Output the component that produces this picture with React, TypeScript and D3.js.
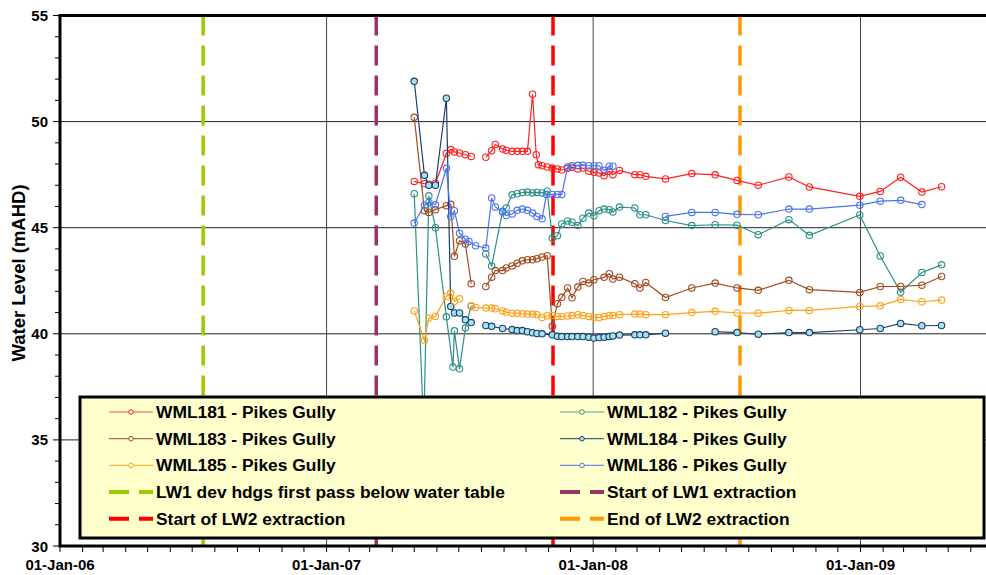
import React from "react";
import * as d3 from "d3";

type Pt = [string, number | null];

const WML181: Pt[] = [
  ["2007-05-01", 47.18], ["2007-05-15", 47.07], ["2007-05-21", 47.05], ["2007-05-30", 47.1],
  ["2007-06-14", 48.5], ["2007-06-20", 48.68], ["2007-06-25", 48.57], ["2007-07-02", 48.52],
  ["2007-07-10", 48.44], ["2007-07-18", 48.36], ["2007-07-28", null],
  ["2007-08-07", 48.32], ["2007-08-15", 48.63], ["2007-08-20", 48.92], ["2007-08-30", 48.71],
  ["2007-09-04", 48.65], ["2007-09-12", 48.6], ["2007-09-19", 48.6], ["2007-09-26", 48.6],
  ["2007-10-03", 48.6], ["2007-10-10", 51.29], ["2007-10-15", 48.44], ["2007-10-18", 47.97],
  ["2007-10-23", 47.92], ["2007-10-30", 47.86], ["2007-11-06", 47.81], ["2007-11-13", 47.77],
  ["2007-11-19", 47.72], ["2007-11-27", 47.8], ["2007-12-03", 47.85], ["2007-12-11", 47.77],
  ["2007-12-18", 47.81], ["2007-12-26", 47.66], ["2008-01-02", 47.61], ["2008-01-09", 47.58],
  ["2008-01-16", 47.45], ["2008-01-23", 47.66], ["2008-01-28", 47.5], ["2008-02-06", 47.7],
  ["2008-02-27", 47.5], ["2008-03-05", 47.5], ["2008-03-13", 47.42], ["2008-04-09", 47.3],
  ["2008-05-15", 47.55], ["2008-06-16", 47.49], ["2008-07-16", 47.23], ["2008-08-14", 47.0],
  ["2008-09-25", 47.39], ["2008-10-23", 46.92], ["2008-12-31", 46.48], ["2009-01-28", 46.71],
  ["2009-02-25", 47.38], ["2009-03-26", 46.68], ["2009-04-22", 46.93],
];

const WML182: Pt[] = [
  ["2007-05-01", 46.6], ["2007-05-14", 35.5], ["2007-05-21", 46.5], ["2007-05-30", 45.0],
  ["2007-06-14", 40.8], ["2007-06-23", 38.43], ["2007-06-25", 40.14], ["2007-07-02", 38.35],
  ["2007-07-10", 40.27], ["2007-07-18", 41.3], ["2007-07-28", null],
  ["2007-08-07", 43.76], ["2007-08-15", 43.2], ["2007-08-30", 45.77], ["2007-09-04", 45.93],
  ["2007-09-12", 46.55], ["2007-09-19", 46.6], ["2007-09-26", 46.66], ["2007-10-03", 46.68],
  ["2007-10-10", 46.64], ["2007-10-16", 46.66], ["2007-10-23", 46.64], ["2007-10-30", 46.72],
  ["2007-11-06", 44.5], ["2007-11-13", 44.62], ["2007-11-19", 45.18], ["2007-11-27", 45.32],
  ["2007-12-03", 45.26], ["2007-12-11", 45.1], ["2007-12-18", 45.45], ["2007-12-26", 45.69],
  ["2008-01-02", 45.56], ["2008-01-09", 45.8], ["2008-01-16", 45.88], ["2008-01-23", 45.85],
  ["2008-01-28", 45.74], ["2008-02-06", 45.97], ["2008-02-27", 45.93], ["2008-03-05", 45.61],
  ["2008-03-13", 45.61], ["2008-04-09", 45.34], ["2008-05-15", 45.1], ["2008-06-16", 45.14],
  ["2008-07-16", 45.12], ["2008-08-14", 44.67], ["2008-09-25", 45.38], ["2008-10-23", 44.64],
  ["2008-12-31", 45.6], ["2009-01-28", 43.67], ["2009-02-25", 41.96], ["2009-03-26", 42.89],
  ["2009-04-22", 43.25],
];

const WML183: Pt[] = [
  ["2007-05-01", 50.2], ["2007-05-15", 45.8], ["2007-05-21", 45.72], ["2007-05-30", 45.85],
  ["2007-06-14", 46.04], ["2007-06-20", 46.1], ["2007-06-25", 43.65], ["2007-07-02", 44.39],
  ["2007-07-10", 44.23], ["2007-07-18", 42.36], ["2007-07-28", null],
  ["2007-08-07", 42.23], ["2007-08-15", 42.67], ["2007-08-20", 42.98], ["2007-08-30", 42.98],
  ["2007-09-04", 43.1], ["2007-09-12", 43.2], ["2007-09-19", 43.33], ["2007-09-26", 43.44],
  ["2007-10-03", 43.49], ["2007-10-10", 43.49], ["2007-10-16", 43.54], ["2007-10-23", 43.62],
  ["2007-10-30", 43.68], ["2007-11-06", 40.35], ["2007-11-13", 41.42], ["2007-11-19", 41.72],
  ["2007-11-27", 42.16], ["2007-12-03", 41.7], ["2007-12-11", 42.2], ["2007-12-18", 42.47],
  ["2007-12-26", 42.39], ["2008-01-02", 42.55], ["2008-01-16", 42.66], ["2008-01-23", 42.83],
  ["2008-01-28", 42.58], ["2008-02-06", 42.67], ["2008-02-27", 42.36], ["2008-03-05", 42.16],
  ["2008-03-13", 42.42], ["2008-04-09", 41.71], ["2008-05-15", 42.16], ["2008-06-16", 42.39],
  ["2008-07-16", 42.16], ["2008-08-14", 42.05], ["2008-09-25", 42.52], ["2008-10-23", 42.08],
  ["2008-12-31", 41.95], ["2009-01-28", 42.23], ["2009-02-25", 42.23], ["2009-03-26", 42.29],
  ["2009-04-22", 42.7],
];

const WML184: Pt[] = [
  ["2007-05-01", 51.9], ["2007-05-15", 47.47], ["2007-05-21", 47.0], ["2007-05-30", 47.0],
  ["2007-06-14", 51.1], ["2007-06-20", 41.29], ["2007-06-25", 40.98], ["2007-07-02", 40.98],
  ["2007-07-10", 40.66], ["2007-07-18", 40.53], ["2007-07-28", null],
  ["2007-08-07", 40.39], ["2007-08-15", 40.35], ["2007-08-30", 40.25], ["2007-09-12", 40.2],
  ["2007-09-19", 40.15], ["2007-09-26", 40.15], ["2007-10-03", 40.1], ["2007-10-10", 40.05],
  ["2007-10-16", 40.02], ["2007-10-23", 40.0], ["2007-11-06", 39.95], ["2007-11-13", 39.88],
  ["2007-11-19", 39.87], ["2007-11-27", 39.87], ["2007-12-03", 39.87], ["2007-12-11", 39.87],
  ["2007-12-18", 39.87], ["2007-12-26", 39.84], ["2008-01-02", 39.8], ["2008-01-09", 39.82],
  ["2008-01-16", 39.84], ["2008-01-23", 39.87], ["2008-01-28", 39.9], ["2008-02-06", 39.94],
  ["2008-02-27", 39.95], ["2008-03-05", 39.95], ["2008-03-13", 39.95], ["2008-04-09", 40.03],
  ["2008-05-10", null],
  ["2008-06-16", 40.1], ["2008-07-16", 40.06], ["2008-08-14", 39.98], ["2008-09-25", 40.06],
  ["2008-10-23", 40.06], ["2008-12-31", 40.19], ["2009-01-28", 40.25], ["2009-02-25", 40.49],
  ["2009-03-26", 40.38], ["2009-04-22", 40.39],
];

const WML185: Pt[] = [
  ["2007-05-01", 41.08], ["2007-05-15", 39.68], ["2007-05-21", 40.74], ["2007-05-30", 40.82],
  ["2007-06-14", 41.76], ["2007-06-20", 41.92], ["2007-06-25", 41.53], ["2007-07-02", 41.65],
  ["2007-07-10", null],
  ["2007-07-18", 41.32], ["2007-07-24", 41.24], ["2007-08-07", 41.21], ["2007-08-15", 41.21],
  ["2007-08-20", 41.18], ["2007-08-30", 41.08], ["2007-09-04", 41.02], ["2007-09-12", 40.97],
  ["2007-09-19", 40.97], ["2007-09-26", 40.94], ["2007-10-03", 40.93], ["2007-10-10", 40.93],
  ["2007-10-16", 40.9], ["2007-10-23", 40.77], ["2007-10-30", 40.85], ["2007-11-06", 40.86],
  ["2007-11-13", 40.82], ["2007-11-19", 40.82], ["2007-11-27", 40.84], ["2007-12-03", 40.86],
  ["2007-12-11", 40.9], ["2007-12-18", 40.86], ["2007-12-26", 40.82], ["2008-01-02", 40.77],
  ["2008-01-09", 40.77], ["2008-01-16", 40.82], ["2008-01-23", 40.86], ["2008-01-28", 40.86],
  ["2008-02-06", 40.9], ["2008-02-27", 40.93], ["2008-03-05", 40.93], ["2008-03-13", 40.9],
  ["2008-04-09", 40.9], ["2008-05-15", 41.0], ["2008-06-16", 41.06], ["2008-07-16", 40.98],
  ["2008-08-14", 40.97], ["2008-09-25", 41.1], ["2008-10-23", 41.1], ["2008-12-31", 41.29],
  ["2009-01-28", 41.32], ["2009-02-25", 41.62], ["2009-03-26", 41.51], ["2009-04-22", 41.59],
];

const WML186: Pt[] = [
  ["2007-05-01", 45.22], ["2007-05-15", 46.06], ["2007-05-21", 46.2], ["2007-05-30", 46.08],
  ["2007-06-14", 47.8], ["2007-06-20", 45.53], ["2007-06-25", 45.8], ["2007-07-02", 44.74],
  ["2007-07-10", 44.46], ["2007-07-15", 44.35], ["2007-07-24", 44.15], ["2007-08-07", 44.04],
  ["2007-08-15", 46.4], ["2007-08-20", 45.98], ["2007-08-30", 45.74], ["2007-09-04", 45.57],
  ["2007-09-12", 45.65], ["2007-09-19", 45.82], ["2007-09-26", 45.88], ["2007-10-03", 45.82],
  ["2007-10-10", 45.69], ["2007-10-16", 45.53], ["2007-10-23", 45.42], ["2007-10-29", 46.56],
  ["2007-11-06", 46.57], ["2007-11-13", 46.57], ["2007-11-19", 46.57], ["2007-11-27", 47.86],
  ["2007-12-03", 47.92], ["2007-12-11", 47.94], ["2007-12-18", 47.94], ["2007-12-26", 47.92],
  ["2008-01-02", 47.92], ["2008-01-09", 47.92], ["2008-01-16", 47.7], ["2008-01-23", 47.9],
  ["2008-01-28", 47.9], ["2008-03-01", null],
  ["2008-04-09", 45.53], ["2008-05-15", 45.72], ["2008-06-16", 45.72], ["2008-07-16", 45.63],
  ["2008-08-14", 45.61], ["2008-09-25", 45.88], ["2008-10-23", 45.88], ["2008-12-31", 46.06],
  ["2009-01-28", 46.25], ["2009-02-25", 46.29], ["2009-03-26", 46.09],
];

const SERIES_NAMES = [
  "WML181 - Pikes Gully", "WML182 - Pikes Gully", "WML183 - Pikes Gully",
  "WML184 - Pikes Gully", "WML185 - Pikes Gully", "WML186 - Pikes Gully",
];
const SERIES_DATA = [WML181, WML182, WML183, WML184, WML185, WML186];
const SERIES_COLORS = ["#FF2020", "#2A9088", "#A24A1E", "#1B3F6B", "#FFA21A", "#4A74F0"];
const SERIES_FILLS = ["none", "none", "none", "#A8E0EE", "none", "none"];

const EVENT_DATES = ["2006-07-16", "2007-03-10", "2007-11-07", "2008-07-20"];
const EVENT_NAMES = [
  "LW1 dev hdgs first pass below water table",
  "Start of LW1 extraction",
  "Start of LW2 extraction",
  "End of LW2 extraction",
];
const EVENT_COLORS = ["#99CC00", "#993366", "#FF0000", "#FF9900"];

const Y_TICKS = [30, 35, 40, 45, 50, 55];
const X_TICK_DATES = ["2006-01-01", "2007-01-01", "2008-01-01", "2009-01-01"];
const X_TICK_LABELS = ["01-Jan-06", "01-Jan-07", "01-Jan-08", "01-Jan-09"];

const parse = d3.timeParse("%Y-%m-%d");
const FONT = "'Liberation Sans', Arial, sans-serif";

export default function App() {
  const W = 986, H = 575;
  const left = 60, top = 15.5, bottom = 546;
  const x = d3.scaleTime()
    .domain([parse("2006-01-01")!, parse("2009-01-01")!])
    .range([left, 860.5]);
  const xEnd = parse("2009-08-01")!;
  const right = x(xEnd);
  const y = d3.scaleLinear().domain([30, 55]).range([bottom, top]);

  const line = d3.line<Pt>()
    .defined((d) => d[1] != null)
    .x((d) => x(parse(d[0])!))
    .y((d) => y(d[1] as number));

  const months = d3.timeMonth.range(parse("2006-01-01")!, xEnd);
  const minorY = d3.range(30, 56, 1);

  const lgX = 80, lgY = 397, lgW = 904, lgH = 141;
  const rowY = (i: number) => 412 + i * 26.7;
  const col1 = [
    { kind: "s", i: 0 }, { kind: "s", i: 2 }, { kind: "s", i: 4 }, { kind: "e", i: 0 }, { kind: "e", i: 2 },
  ];
  const col2 = [
    { kind: "s", i: 1 }, { kind: "s", i: 3 }, { kind: "s", i: 5 }, { kind: "e", i: 1 }, { kind: "e", i: 3 },
  ];

  const legendItem = (it: { kind: string; i: number }, r: number, lx: number) => {
    const cy = rowY(r);
    const key = `${it.kind}${it.i}`;
    if (it.kind === "s") {
      return (
        <g key={key}>
          <line x1={lx} x2={lx + 44} y1={cy} y2={cy} stroke={SERIES_COLORS[it.i]} strokeWidth={1.2} opacity={0.8} />
          <circle cx={lx + 22} cy={cy} r={2.3} fill={SERIES_FILLS[it.i] === "none" ? "#FFFFCC" : SERIES_FILLS[it.i]}
            stroke={SERIES_COLORS[it.i]} strokeWidth={1} />
          <text x={lx + 47} y={cy} dominantBaseline="central" fontFamily={FONT} fontWeight="bold" fontSize={17.4}>
            {SERIES_NAMES[it.i]}
          </text>
        </g>
      );
    }
    return (
      <g key={key}>
        <line x1={lx} x2={lx + 44} y1={cy} y2={cy} stroke={EVENT_COLORS[it.i]} strokeWidth={4} strokeDasharray="20,10" />
        <text x={lx + 47} y={cy} dominantBaseline="central" fontFamily={FONT} fontWeight="bold" fontSize={17.4}>
          {EVENT_NAMES[it.i]}
        </text>
      </g>
    );
  };

  return (
    <svg width={W} height={H} style={{ position: "absolute", left: 0, top: 0, background: "#fff" }}>
      <defs>
        <clipPath id="plot">
          <rect x={left} y={top} width={right - left} height={bottom - top} />
        </clipPath>
      </defs>
      {Y_TICKS.filter((v) => v > 30 && v < 55).map((v) => (
        <line key={`gy${v}`} x1={left} x2={right} y1={y(v)} y2={y(v)} stroke="#222" strokeWidth={1} />
      ))}
      {X_TICK_DATES.slice(1).map((d) => (
        <line key={`gx${d}`} x1={x(parse(d)!)} x2={x(parse(d)!)} y1={top} y2={bottom} stroke="#444" strokeWidth={1} />
      ))}
      {EVENT_DATES.map((d, i) => (
        <line key={`ev${i}`} x1={x(parse(d)!)} x2={x(parse(d)!)} y1={top} y2={bottom}
          stroke={EVENT_COLORS[i]} strokeWidth={3.5} strokeDasharray="20,10" />
      ))}
      <g clipPath="url(#plot)">
        {SERIES_DATA.map((data, si) => (
          <g key={`s${si}`}>
            <path d={line(data) || ""} fill="none" stroke={SERIES_COLORS[si]} strokeWidth={1.2} />
            {data.filter((d) => d[1] != null).map((d, j) => (
              <circle key={j} cx={x(parse(d[0])!)} cy={y(d[1] as number)} r={3.2}
                fill={SERIES_FILLS[si]} stroke={SERIES_COLORS[si]} strokeWidth={1.1} />
            ))}
          </g>
        ))}
      </g>
      <line x1={left - 1.5} x2={W} y1={top} y2={top} stroke="#000" strokeWidth={3} />
      <line x1={left} x2={left} y1={top} y2={bottom} stroke="#000" strokeWidth={3} />
      <line x1={left - 1.5} x2={W} y1={bottom} y2={bottom} stroke="#000" strokeWidth={3} />
      {minorY.map((v) => (
        <line key={`ty${v}`} x1={left - (v % 5 === 0 ? 7 : 5)} x2={left} y1={y(v)} y2={y(v)} stroke="#000" strokeWidth={1} />
      ))}
      {Y_TICKS.map((v) => (
        <text key={`ly${v}`} x={48} y={y(v)} dominantBaseline="central" textAnchor="end"
          fontFamily={FONT} fontWeight="bold" fontSize={15}>{v}</text>
      ))}
      {months.map((m, i) => (
        <line key={`tx${i}`} x1={x(m)} x2={x(m)} y1={bottom} y2={bottom + 6} stroke="#000" strokeWidth={1} />
      ))}
      {X_TICK_DATES.map((d, i) => (
        <text key={`lx${i}`} x={x(parse(d)!)} y={564} dominantBaseline="central" textAnchor="middle"
          fontFamily={FONT} fontWeight="bold" fontSize={15}>{X_TICK_LABELS[i]}</text>
      ))}
      <text transform={`translate(18,${273}) rotate(-90)`} textAnchor="middle" dominantBaseline="central"
        fontFamily={FONT} fontWeight="bold" fontSize={18.5}>Water Level (mAHD)</text>
      <rect x={lgX} y={lgY} width={lgW} height={lgH} fill="#FFFFCC" stroke="#000" strokeWidth={3} />
      {col1.map((it, r) => legendItem(it, r, 109))}
      {col2.map((it, r) => legendItem(it, r, 560))}
    </svg>
  );
}
